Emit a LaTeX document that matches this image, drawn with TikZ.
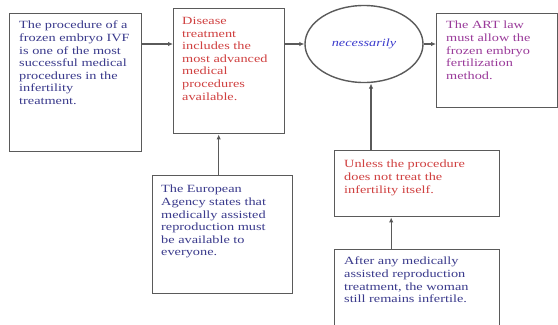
\documentclass[tikz,border=0pt]{standalone}
\usepackage{fontspec}
\setmainfont[FakeStretch=1.3]{Liberation Serif}
\usetikzlibrary{arrows.meta,shapes.geometric}
\definecolor{txtblue}{HTML}{3A3A8C}
\definecolor{txtred}{HTML}{D04040}
\definecolor{txtpurple}{HTML}{9A3A9A}
\definecolor{elblue}{HTML}{3A3ACC}
\definecolor{edge}{HTML}{5A5A5A}
\tikzset{
  boxa/.style={draw=edge, line width=1.4bp, fill=white, inner sep=0pt},
  txt/.style={anchor=north west, inner sep=0pt, align=left,
    font=\rmfamily\fontsize{11bp}{12.6bp}\selectfont},
  conn/.style={draw=edge, line width=1.4bp, -{Latex[length=5bp,width=4.5bp,fill=black]}},
}
\begin{document}
\begin{tikzpicture}[x=1bp,y=-1bp]
\useasboundingbox (0,0) rectangle (558,324);
% boxes
\node[boxa, minimum width=132bp, minimum height=138bp, anchor=north west] (b1) at (9,13) {};
\node[boxa, minimum width=111bp, minimum height=125bp, anchor=north west] (b2) at (173,8) {};
\node[draw=edge, line width=1.4bp, ellipse, minimum width=118bp, minimum height=77bp, inner sep=0pt] (ell) at (364,44)
  {\rmfamily\fontsize{11bp}{12bp}\selectfont\itshape\color{elblue}necessarily};
\node[boxa, minimum width=121bp, minimum height=94bp, anchor=north west] (b4) at (436,13) {};
\node[boxa, minimum width=140bp, minimum height=118bp, anchor=north west] (b3) at (152,175) {};
\node[boxa, minimum width=165bp, minimum height=66bp, anchor=north west] (b5) at (334,150) {};
\node[boxa, minimum width=165bp, minimum height=80bp, anchor=north west] (b6) at (334,249) {};
% texts
\node[txt, text=txtblue] (t1) at (19,21) {The procedure of a\\frozen embryo IVF\\is one of the most\\successful medical\\procedures in the\\infertility\\treatment.};
\node[txt, text=txtred] (t2) at (182,17) {Disease\\treatment\\includes the\\most advanced\\medical\\procedures\\available.};
\node[txt, text=txtpurple] (t4) at (446,21) {The ART law\\must allow the\\frozen embryo\\fertilization\\method.};
\node[txt, text=txtblue] (t3) at (161,185) {The European\\Agency states that\\medically assisted\\reproduction must\\be available to\\everyone.};
\node[txt, text=txtred] (t5) at (344,160) {Unless the procedure\\does not treat the\\infertility itself.};
\node[txt, text=txtblue] (t6) at (344,257) {After any medically\\assisted reproduction\\treatment, the woman\\still remains infertile.};
% connectors
\draw[conn] (b1.east |- ell.center) -- (b2.west |- ell.center);
\draw[conn] (b2.east |- ell.center) -- (ell.west);
\draw[conn] (ell.east) -- (b4.west |- ell.center);
\draw[conn] ([xshift=-4bp]b3.north) -- ([xshift=-4bp]b3.north |- b2.south);
\draw[conn] ([xshift=7bp]ell.south |- b5.north) -- ([xshift=7bp,yshift=-0.3bp]ell.south);
\draw[conn] ([xshift=-26bp]b5.south |- b6.north) -- ([xshift=-26bp]b5.south);
\end{tikzpicture}
\end{document}
